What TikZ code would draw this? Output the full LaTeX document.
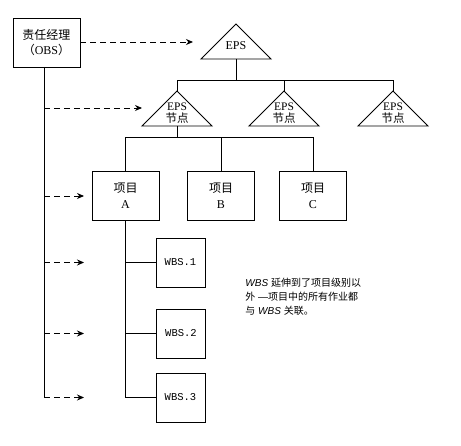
\documentclass[tikz,border=0pt]{standalone}
\usepackage{fontspec}
\setmainfont{Liberation Serif}
\setmonofont{Liberation Mono}
\newfontfamily\cjk{Noto Sans CJK SC}
\newfontfamily\annsans{Liberation Sans}
\usetikzlibrary{arrows.meta}
\begin{document}
\begin{tikzpicture}[x=1pt,y=-1pt,line width=0.9pt,
  box/.style={draw,minimum width=67pt,minimum height=49pt,inner sep=0pt,align=center,
    font=\fontsize{12}{16}\selectfont},
  wbsbox/.style={draw,minimum width=49pt,minimum height=49pt,inner sep=0pt,
    font=\fontsize{10.5}{12}\selectfont\ttfamily},
  tri/.style={draw,line join=miter},
  trilabel/.style={align=center,inner sep=0pt,font=\fontsize{11.5}{11.5}\selectfont},
  obsarrow/.style={dash pattern=on 6pt off 4pt,-{Stealth[length=7pt,width=6pt]}},
  note/.style={align=left,anchor=north west,inner sep=0pt,
    font=\annsans\fontsize{10}{14}\selectfont}]
\useasboundingbox (0,0) rectangle (461,446);

% OBS box
\node[box,font=\fontsize{12}{15}\selectfont] (obs) at (46.5,42.5) {{\cjk 责任经理}\\{\cjk （}OBS{\cjk ）}};

% top EPS triangle
\coordinate (eT) at (236,24);
\coordinate (eTb) at (236,59);
\draw[tri] (eT) -- (271,59) -- (201,59) -- cycle;
\node[trilabel,font=\fontsize{12}{12}\selectfont] (eTl) at (236,46) {EPS};

% EPS node triangles
\coordinate (e1) at (177,91);
\coordinate (e1b) at (177,126);
\draw[tri] (e1) -- (212,126) -- (142,126) -- cycle;
\node[trilabel] (e1l) at (177,113) {EPS\\{\cjk 节点}};
\coordinate (e2) at (284,91);
\draw[tri] (e2) -- (319,126) -- (249,126) -- cycle;
\node[trilabel] (e2l) at (284,113) {EPS\\{\cjk 节点}};
\coordinate (e3) at (393,91);
\draw[tri] (e3) -- (428,126) -- (358,126) -- cycle;
\node[trilabel] (e3l) at (393,113) {EPS\\{\cjk 节点}};

% level 1 connectors
\coordinate (bus1) at (236,80);
\draw (eTb) -- (bus1);
\draw (e1) -- (e1 |- bus1) -- (e3 |- bus1) -- (e3);
\draw (e2) -- (e2 |- bus1);

% project boxes
\node[box] (pA) at (125.5,195.5) {{\cjk 项目}\\A};
\node[box] (pB) at (221,195.5) {{\cjk 项目}\\B};
\node[box] (pC) at (313,195.5) {{\cjk 项目}\\C};

\coordinate (bus2) at (177,137);
\draw (e1b) -- (bus2);
\draw (pA.north) -- (pA.north |- bus2) -- (pC.north |- bus2) -- (pC.north);
\draw (pB.north) -- (pB.north |- bus2);

% WBS boxes
\node[wbsbox] (w1) at (180.5,262.5) {WBS.1};
\node[wbsbox] (w2) at (181,333.5) {WBS.2};
\node[wbsbox] (w3) at (180.5,397.5) {WBS.3};
\draw (pA.south) -- (pA.south |- w3.west) -- (w3.west);
\draw (pA.south |- w1.west) -- (w1.west);
\draw (pA.south |- w2.west) -- (w2.west);

% OBS spine and dashed arrows
\coordinate (o0) at (44,67);
\coordinate (a1) at (193,42);
\coordinate (a2) at (142,108);
\coordinate (a3) at (84,196);
\coordinate (a4) at (84,262.5);
\coordinate (a5) at (84,333.5);
\coordinate (a6) at (84,397.5);
\draw (o0) -- (o0 |- a6);
\draw[obsarrow] (obs.east |- a1) -- (a1);
\draw[obsarrow] (o0 |- a2) -- (a2);
\draw[obsarrow] (o0 |- a3) -- (a3);
\draw[obsarrow] (o0 |- a4) -- (a4);
\draw[obsarrow] (o0 |- a5) -- (a5);
\draw[obsarrow] (o0 |- a6) -- (a6);

% note
\node[note] (nt) at (245,278) {{\itshape WBS} {\cjk 延伸到了项目级别以}\\{\cjk 外} —{\cjk 项目中的所有作业都}\\{\cjk 与} {\itshape WBS} {\cjk 关联。}};
\end{tikzpicture}
\end{document}
